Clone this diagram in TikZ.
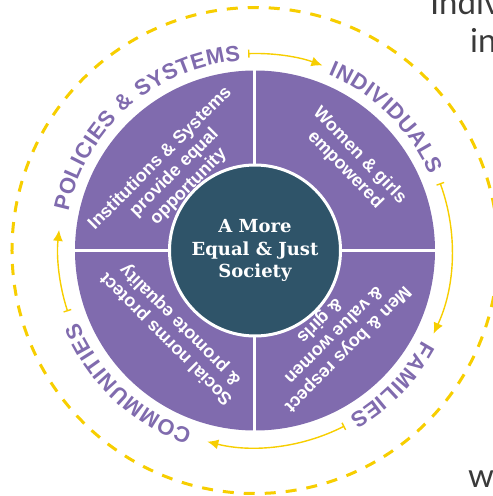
\documentclass[tikz,border=0pt]{standalone}
\usepackage{fontspec}
\setmainfont{Liberation Sans}
\newfontfamily\slabfont{DejaVu Serif}
\newfontfamily\pagefont{Lato}
\usetikzlibrary{arrows.meta}

\definecolor{wheelpurple}{HTML}{806BAE}
\definecolor{coreteal}{HTML}{2F5469}
\definecolor{ringyellow}{HTML}{F7CE00}
\definecolor{pagegray}{HTML}{3A3A3A}

\tikzset{
  quadtext/.style={text=white, inner sep=0pt, align=center,
    font=\fontsize{18}{20}\selectfont\bfseries},
  cycle arrow/.style={ringyellow, line width=1.4pt,
    {Bar[width=8pt]}-{Latex[length=11pt,width=10pt]}},
  ring letter/.style={text=wheelpurple, inner sep=0pt,
    font=\bfseries\fontsize{22}{22}\selectfont},
  page text/.style={anchor=base west, inner sep=0pt, text=pagegray,
    font=\pagefont\fontsize{33}{33}\selectfont},
}

% letters set clockwise round the wheel, tops outward
% #1 name, #2 angle where the word starts, #3 letter/width (em)
\newcommand{\ringword}[3]{%
  \foreach \ch/\w [count=\i, remember=\stop as \start (initially 0),
      evaluate=\w as \stop using \start+22*\w+1.1] in {#3} {
    \pgfmathsetmacro\ang{#2-(\start+11*\w)*0.2894}
    \node[ring letter, rotate=\ang-90] (#1-\i) at (\ang:198) {\ch};
  }}

\begin{document}
\begin{tikzpicture}[x=1pt,y=1pt]
  \useasboundingbox (-255,-245.5) rectangle (238,250.5);

  % dashed outer ring
  \draw[ringyellow, line width=3pt, dash pattern=on 11pt off 10pt]
    (0,0) circle[radius=243];

  % the wheel and its four parts
  \fill[wheelpurple] (0,0) circle[radius=180];
  \draw[white, line width=3pt] (-181,0) -- (181,0) (0,-181) -- (0,181);
  \node[circle, fill=coreteal, draw=white, line width=3pt,
    minimum size=171pt, text=white, align=center,
    font=\slabfont\fontsize{18}{22.5}\selectfont\bfseries]
    (core) at (0,0) {A More\\Equal \& Just\\Society};

  \node[quadtext, rotate=45] (policytext) at (136:112)
    {Institutions \& Systems\\provide equal\\opportunity};
  \node[quadtext, rotate=-46] (individualtext) at (42:131)
    {Women \& girls\\empowered};
  \node[quadtext, rotate=-135] (familytext) at (-47:115)
    {Men \& boys respect\\\& value women\\\& girls};
  \node[quadtext, rotate=135] (communitytext) at (-135:115)
    {Social norms protect\\\& promote equality};

  % labels round the wheel
  \ringword{policies}{168.1}{P/.667, O/.778, L/.611, I/.278, C/.722, I/.278,
    E/.667, S/.667, ~/.278, {\&}/.722, ~/.278, S/.667, Y/.667, S/.667,
    T/.611, E/.667, M/.833, S/.667}
  \ringword{individuals}{67.4}{I/.278, N/.722, D/.722, I/.278, V/.667,
    I/.278, D/.722, U/.722, A/.722, L/.611, S/.667}
  \ringword{families}{-28.4}{F/.611, A/.722, M/.833, I/.278, L/.611,
    I/.278, E/.667, S/.667}
  \ringword{communities}{-109.3}{C/.722, O/.778, M/.833, M/.833, U/.722,
    N/.722, I/.278, T/.611, I/.278, E/.667, S/.667}

  % arrows from one label to the next
  \draw[cycle arrow] (92:197) arc[start angle=92, end angle=70, radius=197];
  \draw[cycle arrow] (20:197) arc[start angle=20, end angle=-25, radius=197];
  \draw[cycle arrow] (-63:197) arc[start angle=-63, end angle=-104, radius=197];
  \draw[cycle arrow] (198:197) arc[start angle=198, end angle=174, radius=197];

  % bits of the page round the picture
  \node[page text] (pageline1) at (175,235.5) {Indiv};
  \node[page text] (pageline2) at (215,197.5) {in};
  \node[page text] (pageline3) at (213,-236.5) {w};
\end{tikzpicture}
\end{document}
